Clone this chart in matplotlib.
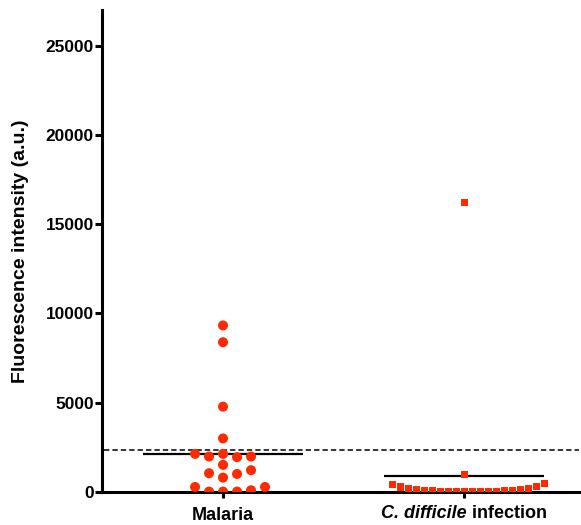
import numpy as np
import matplotlib
matplotlib.use("Agg")
import matplotlib.pyplot as plt

groups = ["Malaria", "C. difficile infection"]
malaria = [9330, 8390, 4780, 3000,
           2135, 1985, 1950, 1985, 2135,
           1520, 805, 1050, 1010, 1220,
           280, 20, 20, 20, 95, 280]
cdiff = [16240, 955,
         430, 300, 180, 120, 80, 60, 40, 30, 20, 10,
         10, 20, 30, 40, 60, 80, 120, 180, 280, 450]
cutoff = 2360
yticks = [0, 5000, 10000, 15000, 20000, 25000]

red = "#ff2a00"
plt.rcParams["font.family"] = ["Liberation Sans", "DejaVu Sans"]
plt.rcParams["font.weight"] = "bold"

fig = plt.figure(figsize=(5.81, 5.25), dpi=100)
ax = fig.add_axes([0.1756, 0.0629, 0.8244, 0.918])
ax.set_xlim(-0.502, 1.485)
ax.set_ylim(0, 27000)


def swarm(vals, step_px, band_px):
    # simple dot-plot layout: points sorted by value, each put in the first
    # free column (0, +1, -1, +2, ...) with no close neighbour in that column
    y_px = ax.transData.transform(np.c_[np.zeros(len(vals)), vals])[:, 1]
    x_unit = ax.transData.transform((1, 0))[0] - ax.transData.transform((0, 0))[0]
    slots = np.zeros(len(vals))
    placed = []
    for i in np.argsort(y_px, kind="stable"):
        k = 0
        while True:
            cand = (k + 1) // 2 * (1 if k % 2 else -1)
            if not any(s == cand and abs(y - y_px[i]) < band_px for s, y in placed):
                break
            k += 1
        slots[i] = cand
        placed.append((cand, y_px[i]))
    return slots * step_px / x_unit


ax.scatter(0 + swarm(malaria, 14, 10), malaria, s=52, marker="o",
           color=red, edgecolor="none", zorder=3)
ax.scatter(1 + swarm(cdiff, 8, 9.5), cdiff, s=26, marker="s",
           color=red, edgecolor="none", zorder=3)

for i, vals in enumerate([malaria, cdiff]):
    ax.hlines(np.mean(vals), i - 0.332, i + 0.332, color="black", lw=1.6, zorder=2)

ax.axhline(cutoff, xmin=0.005, xmax=0.995, color="black", lw=1.1,
           linestyle=(0, (3.5, 2)), zorder=1)

ax.set_yticks(yticks)
ax.set_yticklabels([str(t) for t in yticks], fontsize=12.4, fontweight="bold")
ax.set_xticks([0, 1])
ax.set_xticklabels(["Malaria", ""], fontsize=13, fontweight="bold")
ax.set_ylabel("Fluorescence intensity (a.u.)", fontsize=14, fontweight="bold",
              labelpad=12)

for s in ["top", "right"]:
    ax.spines[s].set_visible(False)
for s in ["left", "bottom"]:
    ax.spines[s].set_linewidth(2.2)
ax.tick_params(axis="y", direction="out", length=5, width=2.2, pad=1)
ax.tick_params(axis="x", direction="out", length=4, width=2.2, pad=7)

# second category label: italic species name + plain word
t1 = ax.text(1, -0.028, "C. difficile", transform=ax.get_xaxis_transform(),
             fontsize=13, fontweight="bold", style="italic", ha="left", va="top")
t2 = ax.annotate(" infection", xy=(1, 0), xycoords=t1, fontsize=13,
                 fontweight="bold", ha="left", va="bottom")
fig.canvas.draw()
r = fig.canvas.get_renderer()
w = t1.get_window_extent(r).width + t2.get_window_extent(r).width
x0 = ax.transData.transform((1, 0))[0] - w / 2
t1.set_x(ax.transData.inverted().transform((x0, 0))[0])

fig.savefig("out.png", dpi=100)
